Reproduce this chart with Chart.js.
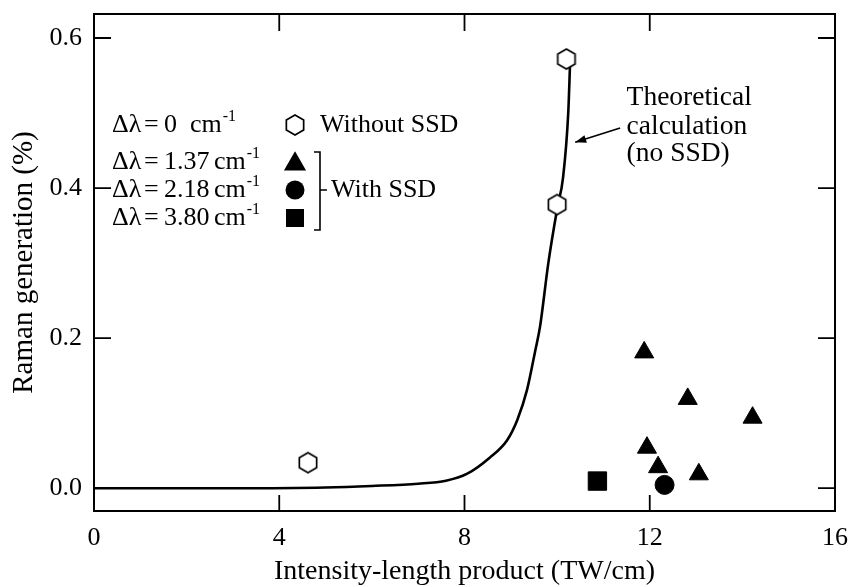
<!DOCTYPE html>
<html>
<head>
<meta charset="utf-8">
<script src="https://cdn.jsdelivr.net/npm/chart.js@4.4.1/dist/chart.umd.min.js"></script>
<style>
  html, body { margin: 0; padding: 0; background: #fff; }
</style>
</head>
<body>
<canvas id="ramanChart" width="854" height="587"></canvas>
<script>
// without SSD (open hexagons)
const noSsdX = [4.62, 10.0, 10.2];
const noSsdY = [0.034, 0.378, 0.572];
// with SSD, dl = 1.37 cm-1 (triangles)
const ssd137X = [11.88, 12.82, 14.22, 11.94, 12.18, 13.06];
const ssd137Y = [0.181, 0.119, 0.094, 0.054, 0.028, 0.0185];
// dl = 2.18 cm-1 (circle)
const ssd218X = [12.32];
const ssd218Y = [0.0044];
// dl = 3.80 cm-1 (square)
const ssd380X = [10.87];
const ssd380Y = [0.0095];
// theoretical calculation, no SSD
const theoryX = [0, 3, 5, 6, 7, 7.6, 8.05, 8.55, 8.92, 9.14, 9.35, 9.53, 9.63, 9.81, 10.0, 10.13, 10.24, 10.28];
const theoryY = [0, 0, 0.001, 0.003, 0.006, 0.01, 0.019, 0.041, 0.064, 0.091, 0.131, 0.184, 0.215, 0.3, 0.372, 0.415, 0.5, 0.567];

const xTicks = [0, 4, 8, 12, 16];
const yTicks = [0.0, 0.2, 0.4, 0.6];
const legendValues = ['0', '1.37', '2.18', '3.80'];

const FONT = '"Liberation Serif", "Times New Roman", serif';

function pts(xs, ys) {
    return xs.map((x, i) => ({x: x, y: ys[i]}));
}

// hexagon marker (no built-in style for it)
function makeHexagon(r, fill) {
    const c = document.createElement('canvas');
    c.width = c.height = 2 * r + 4;
    const g = c.getContext('2d');
    const m = r + 2;
    g.beginPath();
    for (let k = 0; k < 6; k++) {
        const a = -Math.PI / 2 + k * Math.PI / 3;
        const px = m + r * Math.cos(a), py = m + r * Math.sin(a);
        if (k === 0) g.moveTo(px, py); else g.lineTo(px, py);
    }
    g.closePath();
    g.fillStyle = fill;
    g.fill();
    g.lineWidth = 1.7;
    g.strokeStyle = '#000';
    g.stroke();
    return c;
}
const hexagon = makeHexagon(10, '#fff');

// frame, inward ticks, legend block and arrow note
const decorations = {
    id: 'decorations',
    afterDatasetsDraw(chart) {
        const ctx = chart.ctx;
        const a = chart.chartArea;
        const xs = chart.scales.x, ys = chart.scales.y;
        ctx.save();
        ctx.strokeStyle = '#000';
        ctx.lineWidth = 2;
        ctx.strokeRect(a.left, a.top, a.right - a.left, a.bottom - a.top);

        ctx.lineWidth = 1.8;
        ctx.beginPath();
        yTicks.forEach(v => {
            const py = ys.getPixelForValue(v);
            ctx.moveTo(a.left, py); ctx.lineTo(a.left + 17, py);
            ctx.moveTo(a.right, py); ctx.lineTo(a.right - 17, py);
        });
        xTicks.slice(1, -1).forEach(v => {
            const px = xs.getPixelForValue(v);
            ctx.moveTo(px, a.bottom); ctx.lineTo(px, a.bottom - 16);
            ctx.moveTo(px, a.top); ctx.lineTo(px, a.top + 17);
        });
        ctx.stroke();

        // legend text
        ctx.fillStyle = '#000';
        ctx.textBaseline = 'middle';
        const rowY = [125, 162, 190, 218];
        legendValues.forEach((val, i) => {
            const y = rowY[i];
            ctx.font = '26px ' + FONT;
            ctx.fillText('\u0394\u03bb', 112, y);
            ctx.fillText('=', 144, y);
            ctx.fillText(val, 164, y);
            const cx = i === 0 ? 190 : 214;
            ctx.fillText('cm', cx, y);
            const w = ctx.measureText('cm').width;
            ctx.font = '16px ' + FONT;
            ctx.fillText('-1', cx + w + 1, y - 8);
        });
        ctx.font = '26px ' + FONT;
        ctx.fillText('Without SSD', 320, 125);
        ctx.fillText('With SSD', 331, 190);

        // legend markers
        ctx.drawImage(hexagon, 295 - hexagon.width / 2, 125 - hexagon.height / 2);
        Chart.helpers.drawPoint(ctx, {pointStyle: 'triangle', radius: 11, borderWidth: 1}, 295, 164);
        ctx.fill();
        ctx.beginPath();
        ctx.arc(295, 190, 9.5, 0, 2 * Math.PI);
        ctx.fill();
        ctx.fillRect(286, 209, 18, 18);

        // bracket
        ctx.lineWidth = 1.6;
        ctx.beginPath();
        ctx.moveTo(314, 152); ctx.lineTo(320, 152); ctx.lineTo(320, 230); ctx.lineTo(314, 230);
        ctx.moveTo(320, 190); ctx.lineTo(327, 190);
        ctx.stroke();

        // arrow to the theory curve
        const tx = xs.getPixelForValue(10.39), ty = ys.getPixelForValue(0.461);
        const fx = xs.getPixelForValue(11.36), fy = ys.getPixelForValue(0.48);
        ctx.lineWidth = 1.6;
        ctx.beginPath();
        ctx.moveTo(fx, fy); ctx.lineTo(tx, ty);
        ctx.stroke();
        const ang = Math.atan2(ty - fy, tx - fx);
        ctx.beginPath();
        ctx.moveTo(tx, ty);
        ctx.lineTo(tx - 11 * Math.cos(ang) + 4 * Math.sin(ang), ty - 11 * Math.sin(ang) - 4 * Math.cos(ang));
        ctx.lineTo(tx - 11 * Math.cos(ang) - 4 * Math.sin(ang), ty - 11 * Math.sin(ang) + 4 * Math.cos(ang));
        ctx.closePath();
        ctx.fill();

        ctx.font = '27.5px ' + FONT;
        const nx = xs.getPixelForValue(11.5);
        ctx.fillText('Theoretical', nx, 98);
        ctx.fillText('calculation', nx, 127);
        ctx.fillText('(no SSD)', nx, 154);
        ctx.restore();
    }
};

const ramanConfig = {
    type: 'scatter',
    data: {
        datasets: [
            {
                label: 'Without SSD',
                data: pts(noSsdX, noSsdY),
                pointStyle: hexagon,
                order: 1
            },
            {
                label: '1.37 cm-1',
                data: pts(ssd137X, ssd137Y),
                pointStyle: 'triangle',
                pointRadius: 11,
                backgroundColor: '#000',
                borderColor: '#000',
                borderWidth: 1,
                order: 1
            },
            {
                label: '2.18 cm-1',
                data: pts(ssd218X, ssd218Y),
                pointStyle: 'circle',
                pointRadius: 9.5,
                backgroundColor: '#000',
                borderColor: '#000',
                order: 1
            },
            {
                label: '3.80 cm-1',
                data: pts(ssd380X, ssd380Y),
                pointStyle: 'rect',
                pointRadius: 13,
                backgroundColor: '#000',
                borderColor: '#000',
                order: 1
            },
            {
                label: 'Theoretical calculation (no SSD)',
                data: pts(theoryX, theoryY),
                showLine: true,
                cubicInterpolationMode: 'monotone',
                pointRadius: 0,
                borderColor: '#000',
                borderWidth: 2.6,
                order: 2
            }
        ]
    },
    options: {
        responsive: false,
        animation: false,
        events: [],
        layout: {padding: {top: 10, right: 19, left: 0, bottom: 0}},
        plugins: {
            legend: {display: false},
            tooltip: {enabled: false}
        },
        scales: {
            x: {
                type: 'linear',
                min: 0,
                max: 16,
                afterBuildTicks: s => { s.ticks = xTicks.map(v => ({value: v})); },
                afterFit: s => { s.height = 76; s.paddingLeft = 0; s.paddingRight = 0; },
                grid: {display: false, drawTicks: false},
                border: {display: false},
                ticks: {
                    color: '#000',
                    padding: 12,
                    font: {family: FONT, size: 26}
                },
                title: {
                    display: true,
                    text: 'Intensity-length product (TW/cm)',
                    color: '#000',
                    font: {family: FONT, size: 28, lineHeight: 1},
                    padding: {top: 0, bottom: 1}
                }
            },
            y: {
                type: 'linear',
                min: -0.0304,
                max: 0.632,
                afterBuildTicks: s => { s.ticks = yTicks.map(v => ({value: v})); },
                afterFit: s => { s.width = 94; s.paddingTop = 0; s.paddingBottom = 0; },
                grid: {display: false, drawTicks: false},
                border: {display: false},
                ticks: {
                    color: '#000',
                    padding: 12,
                    font: {family: FONT, size: 26},
                    callback: v => v.toFixed(1)
                },
                title: {
                    display: true,
                    text: 'Raman generation (%)',
                    color: '#000',
                    font: {family: FONT, size: 29, lineHeight: 1},
                    padding: {top: 10, bottom: 0}
                }
            }
        }
    },
    plugins: [decorations]
};

const ramanChart = new Chart(document.getElementById('ramanChart').getContext('2d'), ramanConfig);
</script>
</body>
</html>
